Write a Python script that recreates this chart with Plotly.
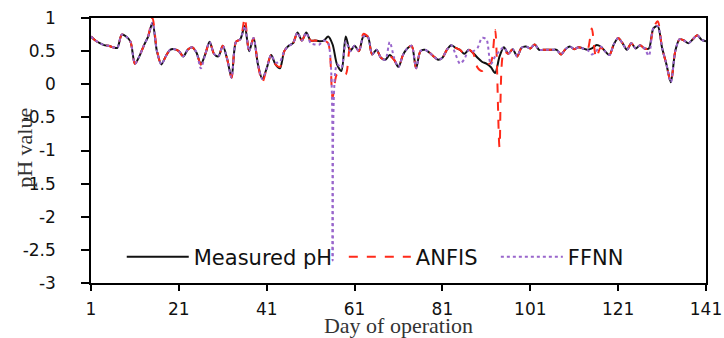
import plotly.graph_objects as go

days = list(range(1, 142))

measured_ph = [
    0.72, 0.66, 0.62, 0.59, 0.58, 0.56, 0.55, 0.75, 0.72, 0.64,
    0.31, 0.42, 0.58, 0.72, 0.93, 0.50, 0.30, 0.42, 0.52, 0.53,
    0.50, 0.42, 0.52, 0.56, 0.48, 0.30, 0.45, 0.64, 0.46, 0.42,
    0.58, 0.38, 0.10, 0.64, 0.68, 0.88, 0.50, 0.70, 0.30, 0.08,
    0.24, 0.44, 0.30, 0.24, 0.50, 0.58, 0.62, 0.78, 0.66, 0.78,
    0.66, 0.66, 0.65, 0.66, 0.72, 0.60, 0.30, 0.20, 0.72, 0.50,
    0.58, 0.50, 0.72, 0.72, 0.45, 0.52, 0.40, 0.37, 0.44, 0.37,
    0.26, 0.44, 0.54, 0.58, 0.24, 0.50, 0.52, 0.48, 0.42, 0.37,
    0.40, 0.52, 0.59, 0.55, 0.52, 0.46, 0.52, 0.47, 0.40, 0.34,
    0.31, 0.26, 0.17, 0.42, 0.56, 0.46, 0.53, 0.42, 0.55, 0.57,
    0.54, 0.60, 0.52, 0.52, 0.52, 0.52, 0.52, 0.45, 0.53, 0.57,
    0.53, 0.56, 0.54, 0.52, 0.54, 0.59, 0.57, 0.50, 0.44, 0.60,
    0.70, 0.62, 0.52, 0.62, 0.54, 0.59, 0.54, 0.54, 0.84, 0.88,
    0.55, 0.30, 0.03, 0.50, 0.68, 0.66, 0.62, 0.68, 0.74, 0.67,
    0.65,
]

anfis = [
    0.72, 0.66, 0.62, 0.59, 0.58, 0.56, 0.55, 0.75, 0.72, 0.64,
    0.31, 0.42, 0.58, 0.72, 1.00, 0.52, 0.30, 0.42, 0.52, 0.53,
    0.50, 0.42, 0.52, 0.56, 0.48, 0.30, 0.45, 0.64, 0.46, 0.42,
    0.58, 0.38, 0.10, 0.64, 0.68, 1.00, 0.50, 0.70, 0.30, 0.03,
    0.24, 0.44, 0.30, 0.26, 0.50, 0.58, 0.62, 0.78, 0.66, 0.78,
    0.66, 0.66, 0.65, 0.66, 0.62, -0.20, 0.15, 0.15, 0.15, 0.55,
    0.58, 0.50, 0.76, 0.72, 0.45, 0.52, 0.40, 0.37, 0.42, 0.37,
    0.26, 0.44, 0.54, 0.58, 0.24, 0.50, 0.52, 0.48, 0.42, 0.37,
    0.40, 0.52, 0.59, 0.55, 0.52, 0.46, 0.52, 0.47, 0.25, 0.20,
    0.30, 0.32, 0.82, -0.95, 0.50, 0.46, 0.53, 0.42, 0.55, 0.57,
    0.54, 0.60, 0.52, 0.52, 0.52, 0.52, 0.52, 0.45, 0.53, 0.57,
    0.53, 0.56, 0.54, 0.52, 0.84, 0.40, 0.55, 0.50, 0.44, 0.60,
    0.70, 0.62, 0.52, 0.62, 0.54, 0.59, 0.54, 0.54, 0.84, 0.95,
    0.55, 0.30, 0.03, 0.50, 0.68, 0.66, 0.62, 0.68, 0.74, 0.67,
    0.65,
]

ffnn = [
    0.72, 0.66, 0.62, 0.59, 0.58, 0.56, 0.55, 0.75, 0.72, 0.64,
    0.31, 0.42, 0.58, 0.72, 0.93, 0.50, 0.30, 0.42, 0.52, 0.53,
    0.50, 0.42, 0.52, 0.56, 0.48, 0.24, 0.45, 0.64, 0.46, 0.42,
    0.58, 0.38, 0.10, 0.64, 0.68, 0.88, 0.50, 0.70, 0.30, 0.08,
    0.24, 0.44, 0.33, 0.34, 0.50, 0.58, 0.62, 0.78, 0.66, 0.78,
    0.62, 0.60, 0.60, 0.66, 0.62, -2.66, 0.30, 0.25, 0.65, 0.50,
    0.58, 0.50, 0.72, 0.72, 0.45, 0.52, 0.40, 0.37, 0.64, 0.40,
    0.26, 0.44, 0.54, 0.58, 0.24, 0.50, 0.52, 0.48, 0.42, 0.37,
    0.40, 0.52, 0.59, 0.45, 0.31, 0.38, 0.52, 0.50, 0.55, 0.70,
    0.68, 0.30, 0.42, 0.50, 0.56, 0.46, 0.53, 0.42, 0.55, 0.57,
    0.54, 0.60, 0.52, 0.52, 0.52, 0.52, 0.52, 0.45, 0.53, 0.57,
    0.53, 0.56, 0.54, 0.52, 0.45, 0.50, 0.57, 0.50, 0.44, 0.60,
    0.70, 0.62, 0.52, 0.62, 0.54, 0.59, 0.54, 0.43, 0.84, 0.88,
    0.55, 0.30, 0.03, 0.50, 0.68, 0.66, 0.62, 0.68, 0.74, 0.67,
    0.65,
]

x_ticks = [1, 21, 41, 61, 81, 101, 121, 141]
y_ticks = [1, 0.5, 0, -0.5, -1, -1.5, -2, -2.5, -3]
y_tick_labels = ["1", "0.5", "0", "-0.5", "-1", "-1.5", "-2", "-2.5", "-3"]

NBSP = "\u00a0"  # keeps a little extra room after legend entries

fig = go.Figure()
fig.add_trace(go.Scatter(x=days, y=measured_ph, mode="lines", name="Measured pH" + NBSP,
                         line=dict(color="#111111", width=2, shape="spline", smoothing=0.8)))
fig.add_trace(go.Scatter(x=days, y=anfis, mode="lines", name="ANFIS" + NBSP * 2,
                         line=dict(color="#ff2a1a", width=2, dash="dash", shape="spline", smoothing=0.8)))
fig.add_trace(go.Scatter(x=days, y=ffnn, mode="lines", name="FFNN",
                         line=dict(color="#9966cc", width=2, dash="dot", shape="spline", smoothing=0.8)))

tick_font = dict(family="DejaVu Sans", size=17, color="#111111")
title_font = dict(family="Liberation Serif", size=22, color="#333333")

fig.update_layout(
    width=724, height=338,
    margin=dict(l=91, r=18, t=18, b=55),
    paper_bgcolor="white", plot_bgcolor="white",
    showlegend=True,
    legend=dict(orientation="h", x=0.05, y=0.02, xanchor="left", yanchor="bottom",
                bgcolor="rgba(0,0,0,0)", font=dict(family="DejaVu Sans", size=21, color="#111111"),
                itemwidth=62, traceorder="normal"),
    xaxis=dict(range=[1, 141], tickvals=x_ticks, ticks="outside", ticklen=6, tickwidth=1.5,
               tickcolor="black", showline=True, linecolor="black", linewidth=1.5, mirror=True,
               showgrid=False, zeroline=False, tickfont=tick_font, ticklabelstandoff=4,
               ticklabeloverflow="allow", automargin=False,
               title=dict(text="Day of operation", font=title_font, standoff=0)),
    yaxis=dict(range=[-3, 1], tickvals=y_ticks, ticktext=y_tick_labels, ticks="outside", ticklen=8,
               tickwidth=1.5, tickcolor="black", showline=True, linecolor="black", linewidth=1.5,
               mirror=True, showgrid=False, zeroline=False, tickfont=tick_font, ticklabelstandoff=22,
               ticklabeloverflow="allow", automargin=False),
    annotations=[dict(text="pH value", xref="paper", yref="paper", x=0, y=0.51, xshift=-66,
                      xanchor="center", yanchor="middle", textangle=-90, showarrow=False,
                      font=title_font)],
)

# remove the default page margin so the 724x338 figure fills the window exactly
page_fix = ("document.body.style.margin='0';"
            "document.body.style.overflow='hidden';"
            "document.documentElement.style.overflow='hidden';")

fig.write_html("out.html", post_script=page_fix, config={"displayModeBar": False})
